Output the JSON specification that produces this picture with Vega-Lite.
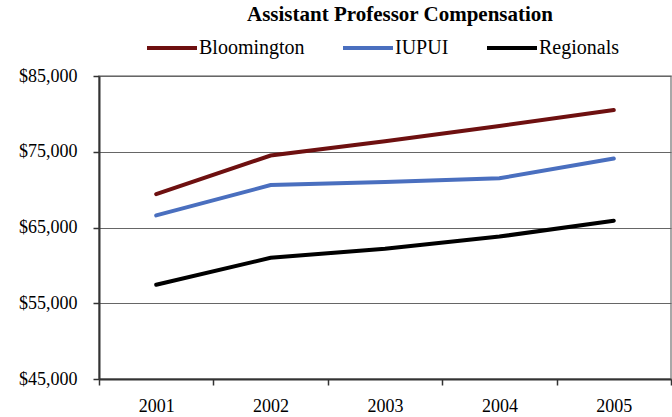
{
  "$schema": "https://vega.github.io/schema/vega-lite/v6.json",
  "width": 572,
  "height": 303,
  "autosize": {"type": "none"},
  "padding": {"left": 99, "top": 76, "right": 1, "bottom": 38},
  "background": "white",
  "title": {
    "text": "Assistant Professor Compensation",
    "font": "Liberation Serif",
    "fontSize": 21,
    "fontWeight": "bold",
    "color": "black",
    "anchor": "middle",
    "frame": "group",
    "dx": 15,
    "offset": -4
  },
  "config": {
    "view": {"stroke": "#8c8c8c", "strokeWidth": 1.5},
    "font": "Liberation Serif"
  },
  "data": {
    "values": [
      {"year": "2001", "campus": "Bloomington", "salary": 69400},
      {"year": "2002", "campus": "Bloomington", "salary": 74500},
      {"year": "2003", "campus": "Bloomington", "salary": 76400},
      {"year": "2004", "campus": "Bloomington", "salary": 78400},
      {"year": "2005", "campus": "Bloomington", "salary": 80500},
      {"year": "2001", "campus": "IUPUI", "salary": 66600},
      {"year": "2002", "campus": "IUPUI", "salary": 70600},
      {"year": "2003", "campus": "IUPUI", "salary": 71000},
      {"year": "2004", "campus": "IUPUI", "salary": 71500},
      {"year": "2005", "campus": "IUPUI", "salary": 74100},
      {"year": "2001", "campus": "Regionals", "salary": 57450},
      {"year": "2002", "campus": "Regionals", "salary": 61000},
      {"year": "2003", "campus": "Regionals", "salary": 62200},
      {"year": "2004", "campus": "Regionals", "salary": 63800},
      {"year": "2005", "campus": "Regionals", "salary": 65900}
    ]
  },
  "mark": {"type": "line", "strokeWidth": 4, "strokeCap": "round"},
  "encoding": {
    "x": {
      "field": "year",
      "type": "ordinal",
      "scale": {"type": "band", "paddingInner": 0, "paddingOuter": 0},
      "axis": {
        "title": null,
        "labelAngle": 0,
        "labelFont": "Liberation Serif",
        "labelFontSize": 18,
        "labelColor": "black",
        "labelPadding": 12,
        "tickBand": "extent",
        "tickSize": 6,
        "tickColor": "#333",
        "tickWidth": 1.5,
        "domainColor": "#333",
        "domainWidth": 2,
        "grid": false
      }
    },
    "y": {
      "field": "salary",
      "type": "quantitative",
      "scale": {"domain": [45000, 85000], "nice": false, "zero": false},
      "axis": {
        "title": null,
        "values": [45000, 55000, 65000, 75000, 85000],
        "format": "$,.0f",
        "labelFont": "Liberation Serif",
        "labelFontSize": 18,
        "labelColor": "black",
        "labelPadding": 16,
        "tickSize": 6,
        "tickColor": "#333",
        "tickWidth": 1.5,
        "domainColor": "#333",
        "domainWidth": 2,
        "grid": true,
        "gridColor": "#666",
        "gridWidth": 1
      }
    },
    "color": {
      "field": "campus",
      "type": "nominal",
      "scale": {
        "domain": ["Bloomington", "IUPUI", "Regionals"],
        "range": ["#6e1010", "#4a6fbf", "#000000"]
      },
      "legend": {
        "title": null,
        "orient": "none",
        "direction": "horizontal",
        "legendX": 46,
        "legendY": -55,
        "symbolType": "stroke",
        "symbolSize": 2500,
        "symbolStrokeWidth": 4,
        "labelFont": "Liberation Serif",
        "labelFontSize": 20,
        "labelColor": "black",
        "labelOffset": 0,
        "columnPadding": 30
      }
    }
  }
}
